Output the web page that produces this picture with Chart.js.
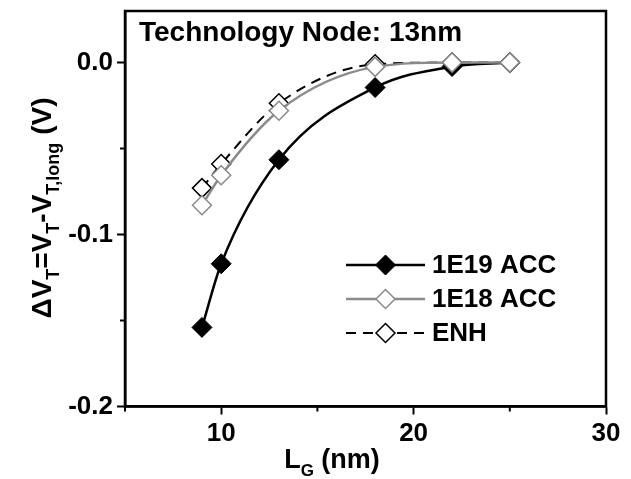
<!DOCTYPE html>
<html>
<head>
<meta charset="utf-8">
<script src="https://cdn.jsdelivr.net/npm/chart.js@4"></script>
<style>
  html, body { margin: 0; padding: 0; background: #fff; }
  #wrap { width: 631px; height: 479px; }
</style>
</head>
<body>
<div id="wrap"><canvas id="chart" width="631" height="479"></canvas></div>
<script>
// data
const lengths = [9, 10, 13, 18, 22, 25];
const acc1e19 = [-0.154, -0.117, -0.0565, -0.0145, -0.0023, 0];
const acc1e18 = [-0.083, -0.0655, -0.028, -0.0025, 0, 0];
const enh = [-0.073, -0.059, -0.0237, -0.001, 0, 0];
const seriesNames = ["1E19 ACC", "1E18 ACC", "ENH"];
const xTicks = [5, 10, 15, 20, 25, 30];
const yTicks = [-0.2, -0.15, -0.1, -0.05, 0];

const FONT = "'Liberation Sans', Arial, sans-serif";
const GREY = "#8a8a8a";

function pts(ys) {
  return lengths.map((x, i) => ({ x: x, y: ys[i] }));
}

function isMajorX(v) { return v % 10 === 0; }
function isMajorY(v) { return Math.round(v * 100) % 10 === 0; }

// rich text helper: parts = [[text, size, dy]]
function drawRich(ctx, parts, x, y) {
  let w = 0;
  parts.forEach((p) => {
    ctx.font = "bold " + p[1] + "px " + FONT;
    w += ctx.measureText(p[0]).width;
  });
  let cx = x - w / 2;
  parts.forEach((p) => {
    ctx.font = "bold " + p[1] + "px " + FONT;
    ctx.fillText(p[0], cx, y + p[2]);
    cx += ctx.measureText(p[0]).width;
  });
}

function diamond(ctx, x, y, r, fill, stroke, lw) {
  ctx.beginPath();
  ctx.moveTo(x, y - r);
  ctx.lineTo(x + r, y);
  ctx.lineTo(x, y + r);
  ctx.lineTo(x - r, y);
  ctx.closePath();
  ctx.fillStyle = fill;
  ctx.fill();
  ctx.lineWidth = lw;
  ctx.strokeStyle = stroke;
  ctx.stroke();
}

const decorations = {
  id: "decorations",
  afterDraw(chart) {
    const ctx = chart.ctx;
    const a = chart.chartArea;
    const xs = chart.scales.x;
    const ys = chart.scales.y;
    ctx.save();
    // frame
    ctx.strokeStyle = "#000";
    ctx.lineWidth = 2.5;
    ctx.strokeRect(a.left, a.top, a.right - a.left, a.bottom - a.top);

    // minor ticks (shorter)
    ctx.lineWidth = 2;
    ctx.beginPath();
    xTicks.filter((v) => !isMajorX(v)).forEach((v) => {
      const px = xs.getPixelForValue(v);
      ctx.moveTo(px, a.bottom);
      ctx.lineTo(px, a.bottom + 5);
    });
    yTicks.filter((v) => !isMajorY(v)).forEach((v) => {
      const py = ys.getPixelForValue(v);
      ctx.moveTo(a.left, py);
      ctx.lineTo(a.left - 5, py);
    });
    ctx.stroke();

    ctx.fillStyle = "#000";
    ctx.textBaseline = "alphabetic";
    ctx.textAlign = "left";
    ctx.font = "bold 28px " + FONT;
    ctx.fillText("Technology Node: 13nm", 139, 41);

    // x title
    drawRich(ctx, [["L", 27, 0], ["G", 17, 8], [" (nm)", 27, 0]], 332, 468);

    // y title
    ctx.save();
    ctx.translate(51, 208);
    ctx.rotate(-Math.PI / 2);
    drawRich(ctx, [
      ["\u0394V", 28, 0], ["T", 18, 8],
      ["=V", 28, 0], ["T", 18, 8],
      ["-V", 28, 0], ["T,long", 18, 8],
      [" (V)", 28, 0]
    ], 0, 0);
    ctx.restore();

    // legend
    const rows = [265, 299, 333];
    chart.data.datasets.forEach((ds, i) => {
      const y = rows[i];
      ctx.save();
      ctx.strokeStyle = ds.borderColor;
      ctx.lineWidth = ds.borderWidth;
      ctx.setLineDash(ds.borderDash || []);
      ctx.beginPath();
      ctx.moveTo(346, y);
      ctx.lineTo(425, y);
      ctx.stroke();
      ctx.restore();
      diamond(ctx, 385.5, y, ds.pointRadius, ds.pointBackgroundColor,
        ds.pointBorderColor, ds.pointBorderWidth);
      ctx.fillStyle = "#000";
      ctx.font = "bold 26px " + FONT;
      ctx.textBaseline = "middle";
      ctx.fillText(seriesNames[i], 432, y + 1);
    });
    ctx.restore();
  }
};

new Chart(document.getElementById("chart"), {
  type: "line",
  data: {
    datasets: [
      {
        label: seriesNames[0],
        data: pts(acc1e19),
        borderColor: "#000",
        borderWidth: 2.5,
        pointStyle: "rectRot",
        pointRadius: 10,
        pointBackgroundColor: "#000",
        pointBorderColor: "#000",
        pointBorderWidth: 1,
        cubicInterpolationMode: "monotone",
        order: 2
      },
      {
        label: seriesNames[1],
        data: pts(acc1e18),
        borderColor: GREY,
        borderWidth: 2.5,
        pointStyle: "rectRot",
        pointRadius: 9.5,
        pointBackgroundColor: "#fff",
        pointBorderColor: GREY,
        pointBorderWidth: 1.5,
        cubicInterpolationMode: "monotone",
        order: 0
      },
      {
        label: seriesNames[2],
        data: pts(enh),
        borderColor: "#000",
        borderWidth: 2,
        borderDash: [10, 7],
        pointStyle: "rectRot",
        pointRadius: 9.5,
        pointBackgroundColor: "#fff",
        pointBorderColor: "#000",
        pointBorderWidth: 1.5,
        cubicInterpolationMode: "monotone",
        order: 1
      }
    ]
  },
  options: {
    responsive: false,
    animation: false,
    layout: { padding: { top: 8, right: 25, left: 0, bottom: 0 } },
    plugins: { legend: { display: false }, tooltip: { enabled: false } },
    scales: {
      x: {
        type: "linear",
        min: 5,
        max: 30,
        afterFit(s) { s.height = 72.5; s.paddingLeft = 0; s.paddingRight = 0; },
        afterBuildTicks(s) { s.ticks = xTicks.map((v) => ({ value: v })); },
        border: { display: true, color: "#000", width: 2.5 },
        grid: {
          drawOnChartArea: false, drawTicks: true, tickLength: 8, tickWidth: 2, color: "#000",
          tickColor: (c) => (c.tick && isMajorX(c.tick.value) ? "#000" : "rgba(0,0,0,0)")
        },
        ticks: {
          color: "#000",
          padding: 4,
          maxRotation: 0,
          font: { family: FONT, size: 26, weight: "bold" },
          callback: (v) => (isMajorX(v) ? String(v) : "")
        }
      },
      y: {
        type: "linear",
        min: -0.2,
        max: 0.03,
        afterFit(s) { s.width = 125; s.paddingTop = 0; s.paddingBottom = 0; },
        afterBuildTicks(s) { s.ticks = yTicks.map((v) => ({ value: v })); },
        border: { display: true, color: "#000", width: 2.5 },
        grid: {
          drawOnChartArea: false, drawTicks: true, tickLength: 8, tickWidth: 2, color: "#000",
          tickColor: (c) => (c.tick && isMajorY(c.tick.value) ? "#000" : "rgba(0,0,0,0)")
        },
        ticks: {
          color: "#000",
          padding: 4,
          font: { family: FONT, size: 26, weight: "bold" },
          callback: (v) => (isMajorY(v) ? (v === 0 ? "0.0" : v.toFixed(1)) : "")
        }
      }
    }
  },
  plugins: [decorations]
});
</script>
</body>
</html>
